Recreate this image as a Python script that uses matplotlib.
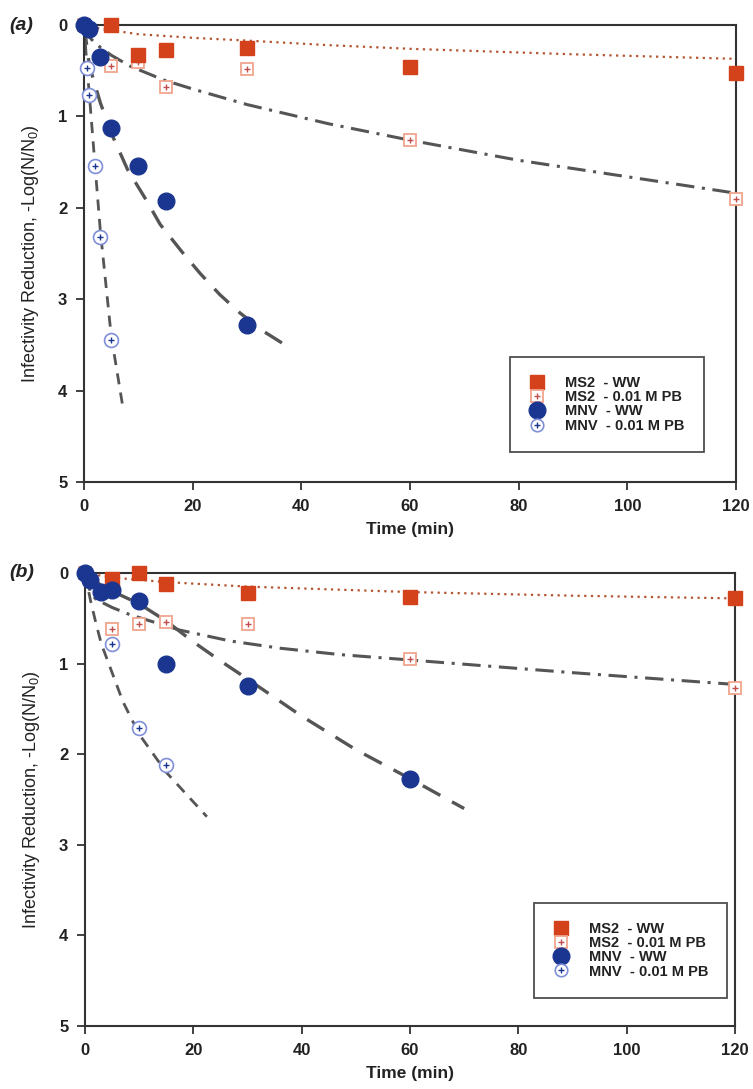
import matplotlib
matplotlib.use("Agg")
import matplotlib.pyplot as plt
from matplotlib.lines import Line2D

plt.rcParams["font.family"] = ["Liberation Sans", "DejaVu Sans"]
plt.rcParams["mathtext.fontset"] = "custom"
plt.rcParams["mathtext.rm"] = "Liberation Sans"

# ---- panel (a) measured points ----
a_ms2_ww_t = [5, 10, 15, 30, 60, 120]
a_ms2_ww_y = [0.0, 0.33, 0.27, 0.25, 0.46, 0.52]
a_ms2_pb_t = [0, 5, 10, 15, 30, 60, 120]
a_ms2_pb_y = [0.0, 0.45, 0.40, 0.68, 0.48, 1.26, 1.90]
a_mnv_ww_t = [0, 1, 3, 5, 10, 15, 30]
a_mnv_ww_y = [0.0, 0.04, 0.35, 1.13, 1.54, 1.93, 3.28]
a_mnv_pb_t = [0, 0.5, 1, 2, 3, 5]
a_mnv_pb_y = [0.0, 0.47, 0.77, 1.54, 2.32, 3.45]

# ---- panel (a) fitted curves ----
a_fit_ms2_ww_t = [0, 3, 10, 20, 30, 45, 60, 90, 120]
a_fit_ms2_ww_y = [0.0, 0.04, 0.10, 0.14, 0.17, 0.22, 0.26, 0.32, 0.37]
a_fit_ms2_pb_t = [0, 1, 2, 5, 8.5, 14.6, 20, 30, 45, 60, 80, 100, 120]
a_fit_ms2_pb_y = [0.0, 0.13, 0.20, 0.33, 0.45, 0.60, 0.70, 0.87, 1.08, 1.26, 1.48, 1.66, 1.84]
a_fit_mnv_ww_t = [0, 1, 3, 5, 8, 11.5, 14, 18, 21.4, 25, 28.7, 33, 37.8]
a_fit_mnv_ww_y = [0.0, 0.45, 0.85, 1.18, 1.58, 1.92, 2.18, 2.48, 2.72, 2.95, 3.15, 3.35, 3.53]
a_fit_mnv_pb_t = [0, 0.5, 1, 2, 3, 5, 7.2]
a_fit_mnv_pb_y = [0.0, 0.42, 0.78, 1.52, 2.25, 3.40, 4.20]

# ---- panel (b) measured points ----
b_ms2_ww_t = [5, 10, 15, 30, 60, 120]
b_ms2_ww_y = [0.07, 0.0, 0.12, 0.22, 0.27, 0.28]
b_ms2_pb_t = [0, 5, 10, 15, 30, 60, 120]
b_ms2_pb_y = [0.0, 0.62, 0.56, 0.54, 0.56, 0.95, 1.27]
b_mnv_ww_t = [0, 1, 3, 5, 10, 15, 30, 60]
b_mnv_ww_y = [0.0, 0.08, 0.21, 0.19, 0.31, 1.00, 1.25, 2.27]
b_mnv_pb_t = [0, 5, 10, 15]
b_mnv_pb_y = [0.0, 0.78, 1.71, 2.12]

# ---- panel (b) fitted curves ----
b_fit_ms2_ww_t = [0, 5, 15, 30, 45, 60, 90, 120]
b_fit_ms2_ww_y = [0.0, 0.05, 0.10, 0.15, 0.18, 0.21, 0.25, 0.28]
b_fit_ms2_pb_t = [0, 1, 2, 5, 8.3, 17.5, 26.8, 36, 47, 60, 90, 120]
b_fit_ms2_pb_y = [0.0, 0.21, 0.29, 0.38, 0.46, 0.63, 0.75, 0.83, 0.90, 0.96, 1.10, 1.23]
b_fit_mnv_ww_t = [0, 2, 5, 10, 15, 20, 25, 30, 40, 50, 60, 70]
b_fit_mnv_ww_y = [0.0, 0.10, 0.20, 0.34, 0.53, 0.76, 0.97, 1.17, 1.58, 1.95, 2.27, 2.60]
b_fit_mnv_pb_t = [0, 1, 2, 3, 5, 7, 10, 15, 22.5]
b_fit_mnv_pb_y = [0.0, 0.30, 0.55, 0.78, 1.10, 1.42, 1.78, 2.20, 2.69]

RED = "#d4421c"
PINK = "#f0a58c"
NAVY = "#1a3690"
LBLUE = "#7f8fd8"
GREY = "#555555"

fig = plt.figure(figsize=(7.53, 10.89), dpi=100)
ax_a = fig.add_axes([0.1116, 0.5574, 0.8658, 0.4196])
ax_b = fig.add_axes([0.1129, 0.0579, 0.8632, 0.4159])


def draw_panel(ax, pts, fits, legend_anchor):
    (ms2_ww, ms2_pb, mnv_ww, mnv_pb) = pts
    (f_ms2_ww, f_ms2_pb, f_mnv_ww, f_mnv_pb) = fits

    ax.plot(*f_ms2_ww, color="#b4532f", lw=1.6, linestyle=(0, (1, 2)), zorder=2)
    ax.plot(*f_ms2_pb, color=GREY, lw=2.2, linestyle=(0, (6, 2.5, 1, 2.5)), zorder=2)
    ax.plot(*f_mnv_ww, color=GREY, lw=2.4, linestyle=(0, (6, 4)), zorder=2)
    ax.plot(*f_mnv_pb, color=GREY, lw=2.0, linestyle=(0, (4, 3)), zorder=2)

    ax.plot(*ms2_ww, ls="none", marker="s", ms=10, color=RED, mec=RED, zorder=4, clip_on=False)
    ax.plot(*ms2_pb, ls="none", marker="s", ms=9, mfc="white", mec=PINK, mew=1.3, zorder=3,
            clip_on=False)
    ax.plot(*ms2_pb, ls="none", marker="+", ms=4, color="#c0504d", mew=1.0, zorder=3, clip_on=False)
    ax.plot(*mnv_ww, ls="none", marker="o", ms=12, color=NAVY, mec=NAVY, zorder=4, clip_on=False)
    ax.plot(*mnv_pb, ls="none", marker="o", ms=10, mfc="white", mec=LBLUE, mew=1.2, zorder=3,
            clip_on=False)
    ax.plot(*mnv_pb, ls="none", marker="+", ms=4, color=NAVY, mew=1.0, zorder=3, clip_on=False)

    ax.set_xlim(0, 120)
    ax.set_ylim(5, 0)
    ax.set_xticks([0, 20, 40, 60, 80, 100, 120])
    ax.set_yticks([0, 1, 2, 3, 4, 5])
    ax.tick_params(direction="out", length=6, width=1.3, colors="#333333", labelsize=12, pad=6)
    for lab in ax.get_xticklabels() + ax.get_yticklabels():
        lab.set_fontweight("bold")
        lab.set_color("#222222")
    for sp in ax.spines.values():
        sp.set_linewidth(1.5)
        sp.set_color("#333333")
    ax.set_xlabel("Time (min)", fontsize=12.5, fontweight="bold", color="#222222", labelpad=6)
    ax.set_ylabel(r"Infectivity Reduction, -Log(N/N$_\mathregular{0}$)", fontsize=13,
                  color="#222222", labelpad=12)

    handles = [
        Line2D([], [], ls="none", marker="s", ms=10, color=RED),
        (Line2D([], [], ls="none", marker="s", ms=8, mfc="white", mec=PINK, mew=1.3),
         Line2D([], [], ls="none", marker="+", ms=4, color="#c0504d")),
        Line2D([], [], ls="none", marker="o", ms=12, color=NAVY),
        (Line2D([], [], ls="none", marker="o", ms=9, mfc="white", mec=LBLUE, mew=1.2),
         Line2D([], [], ls="none", marker="+", ms=4, color=NAVY)),
    ]
    labels = ["MS2  - WW", "MS2  - 0.01 M PB", "MNV  - WW", "MNV  - 0.01 M PB"]
    leg = ax.legend(handles, labels, loc="upper left", bbox_to_anchor=legend_anchor,
                    frameon=True, fancybox=False, edgecolor="#222222", fontsize=10.5,
                    handlelength=1.2, handletextpad=1.3, labelspacing=0.02,
                    borderpad=1.3, borderaxespad=0)
    leg.get_frame().set_linewidth(1.3)
    for t in leg.get_texts():
        t.set_fontweight("bold")
        t.set_color("#222222")


draw_panel(
    ax_a,
    [(a_ms2_ww_t, a_ms2_ww_y), (a_ms2_pb_t, a_ms2_pb_y),
     (a_mnv_ww_t, a_mnv_ww_y), (a_mnv_pb_t, a_mnv_pb_y)],
    [(a_fit_ms2_ww_t, a_fit_ms2_ww_y), (a_fit_ms2_pb_t, a_fit_ms2_pb_y),
     (a_fit_mnv_ww_t, a_fit_mnv_ww_y), (a_fit_mnv_pb_t, a_fit_mnv_pb_y)],
    (0.653, 0.274),
)
draw_panel(
    ax_b,
    [(b_ms2_ww_t, b_ms2_ww_y), (b_ms2_pb_t, b_ms2_pb_y),
     (b_mnv_ww_t, b_mnv_ww_y), (b_mnv_pb_t, b_mnv_pb_y)],
    [(b_fit_ms2_ww_t, b_fit_ms2_ww_y), (b_fit_ms2_pb_t, b_fit_ms2_pb_y),
     (b_fit_mnv_ww_t, b_fit_mnv_ww_y), (b_fit_mnv_pb_t, b_fit_mnv_pb_y)],
    (0.69, 0.272),
)

fig.text(0.013, 0.977, "(a)", fontsize=14, fontweight="bold", fontstyle="italic",
         va="center", ha="left", color="#222222")
fig.text(0.013, 0.474, "(b)", fontsize=14, fontweight="bold", fontstyle="italic",
         va="center", ha="left", color="#222222")

fig.savefig("out.png", dpi=100)
